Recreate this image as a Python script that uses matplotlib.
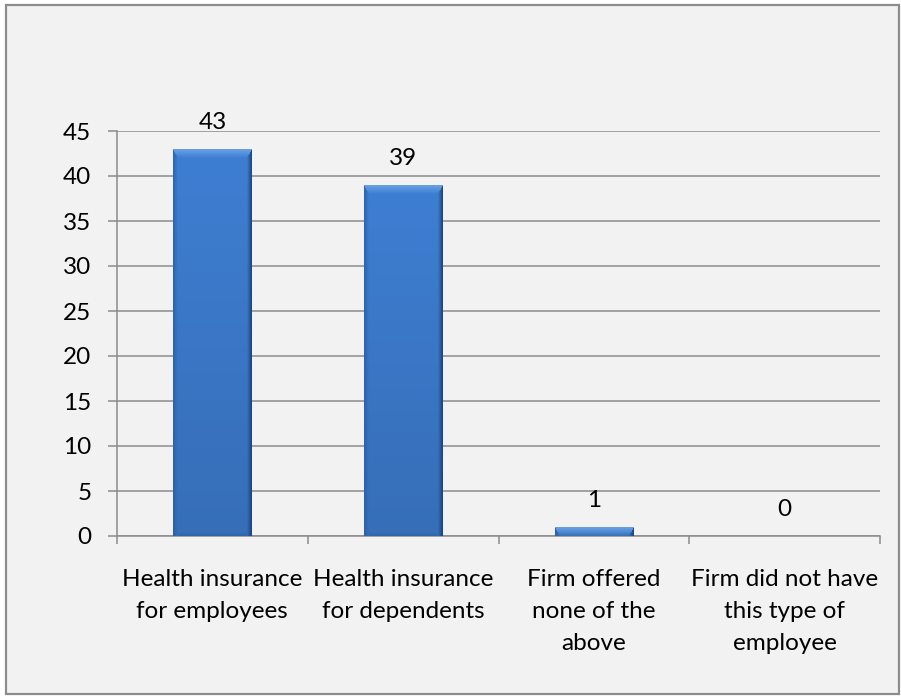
import numpy as np
import matplotlib
matplotlib.use("Agg")
import matplotlib.pyplot as plt
from matplotlib.patches import Rectangle

plt.rcParams['font.family'] = ['Lato', 'DejaVu Sans']

categories = [
    "Health insurance\nfor employees",
    "Health insurance\nfor dependents",
    "Firm offered\nnone of the\nabove",
    "Firm did not have\nthis type of\nemployee",
]
values = [43, 39, 1, 0]
y_ticks = [0, 5, 10, 15, 20, 25, 30, 35, 40, 45]

W, H, DPI = 901, 696, 100
FS = 17.5
fig = plt.figure(figsize=(W / DPI, H / DPI), dpi=DPI, facecolor="white")

# chart area frame
fig.patches.append(Rectangle((6 / W, 1 - 694 / H), 893 / W, 689 / H,
                             transform=fig.transFigure, facecolor="#f2f2f2",
                             edgecolor="#8c8c8c", linewidth=1.6, zorder=-5))

ax = fig.add_axes([117 / W, 1 - 536 / H, (880 - 117) / W, (536 - 131) / H])
ax.set_facecolor("none")

GRID = "#8c8c8c"
x = np.arange(len(categories))
bars = ax.bar(x, values, width=0.41, color="#3b78c8", zorder=3, linewidth=0)
ax.set_xlim(-0.5, len(categories) - 0.5)
ax.set_ylim(0, 45)
ax.set_yticks(y_ticks)
ax.yaxis.grid(True, color=GRID, linewidth=1.1, zorder=0)
ax.set_axisbelow(True)
for s in ("top", "right"):
    ax.spines[s].set_visible(False)
for s in ("left", "bottom"):
    ax.spines[s].set_color(GRID)
    ax.spines[s].set_linewidth(1.1)

ax.set_xticks(np.arange(len(categories) + 1) - 0.5, minor=True)
ax.set_xticks(x)
ax.set_xticklabels(categories, fontsize=FS, linespacing=1.65, va="top")
ax.tick_params(axis="x", which="major", length=0, pad=24)
ax.tick_params(axis="x", which="minor", length=6, width=1.1, color=GRID, direction="out")
ax.tick_params(axis="y", length=6.5, width=1.1, color=GRID, direction="out",
               labelsize=FS, pad=12)

fig.canvas.draw()


def bevel(wpx, hpx):
    """Rounded-bevel shading for a bar of the given pixel size."""
    wpx, hpx = max(int(round(wpx)), 2), max(int(round(hpx)), 2)
    yy, xx = np.mgrid[0:hpx, 0:wpx] + 0.5
    base = np.array([0x3b, 0x78, 0xc8]) / 255.0
    t = yy / hpx
    shade = 1.05 - 0.13 * t
    img = base[None, None, :] * shade[..., None]
    dl, dr, dt, db = xx, wpx - xx, yy, hpx - yy
    bw_top, bw_side, bw_bot = 9.0, 5.0, 4.0
    # top band
    top = (dt < bw_top) & (dt <= dl * bw_top / bw_side) & (dt <= dr * bw_top / bw_side)
    f = dt / bw_top
    light = np.array([0x78, 0xae, 0xea]) / 255.0
    mix = (1 - f)[..., None] * 0.75
    img = np.where(top[..., None], img * (1 - mix) + light * mix, img)
    # left band
    left = (dl < bw_side) & ~top
    fl = dl / bw_side
    dark_l = np.array([0x2a, 0x5c, 0xa4]) / 255.0
    mixl = (1 - fl)[..., None] * 0.8
    img = np.where(left[..., None], img * (1 - mixl) + dark_l * mixl, img)
    # right band
    right = (dr < bw_side) & ~top
    fr = dr / bw_side
    dark_r = np.array([0x16, 0x3e, 0x7a]) / 255.0
    mixr = (1 - fr)[..., None] * 0.95
    img = np.where(right[..., None], img * (1 - mixr) + dark_r * mixr, img)
    # bottom band
    bot = (db < bw_bot) & ~top & ~left & ~right
    fb = db / bw_bot
    dark_b = np.array([0x2c, 0x5e, 0xa2]) / 255.0
    mixb = (1 - fb)[..., None] * 0.6
    img = np.where(bot[..., None], img * (1 - mixb) + dark_b * mixb, img)
    return np.clip(img, 0, 1)


for b, v in zip(bars, values):
    if v > 0:
        x0, y0 = b.get_x(), b.get_y()
        x1, y1 = x0 + b.get_width(), y0 + b.get_height()
        p0 = ax.transData.transform((x0, y0))
        p1 = ax.transData.transform((x1, y1))
        img = bevel(p1[0] - p0[0], p1[1] - p0[1])
        ax.imshow(img, extent=(x0, x1, y0, y1), aspect="auto",
                  interpolation="bilinear", zorder=4)
    ax.annotate(f"{v}", (b.get_x() + b.get_width() / 2, v),
                xytext=(0, 19), textcoords="offset points",
                ha="center", va="center", fontsize=FS, zorder=5,
                annotation_clip=False)

ax.set_xlim(-0.5, len(categories) - 0.5)
ax.set_ylim(0, 45)

fig.savefig("out.png", dpi=DPI, facecolor="white")
